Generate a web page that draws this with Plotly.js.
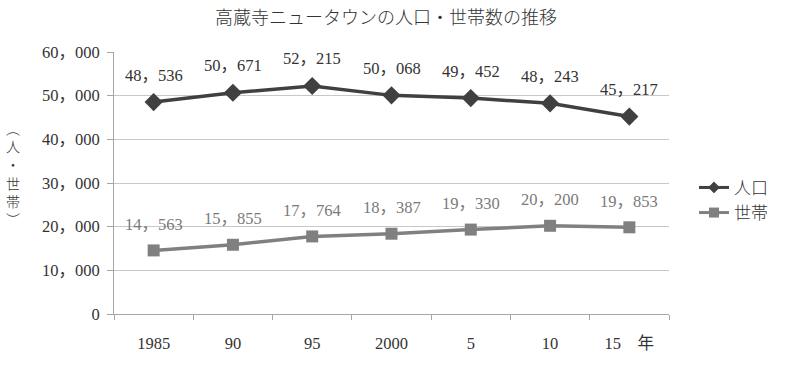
<!DOCTYPE html>
<html>
<head>
<meta charset="utf-8">
<script src="https://cdn.plot.ly/plotly-3.0.1.min.js"></script>
<style>html,body{margin:0;padding:0;background:#fff;}#chart{width:800px;height:370px;}</style>
</head>
<body>
<div id="chart"></div>
<script>
const categories = ["1985", "90", "95", "2000", "5", "10", "15"];
const tickLabels = ["1985", "90", "95", "2000", "5", "10", "15　年"];
const population = [48536, 50671, 52215, 50068, 49452, 48243, 45217];
const households = [14563, 15855, 17764, 18387, 19330, 20200, 19853];
const yTicks = [0, 10000, 20000, 30000, 40000, 50000, 60000];

const FONT = "Liberation Serif, 'Noto Sans CJK JP', serif";
const darkCol = "#404040";
const grayCol = "#808080";

function fmt(v) {
  return v.toLocaleString("en-US").replace(/,/g, "，");
}

const traces = [
  {
    x: categories, y: population, name: "人口", type: "scatter", mode: "lines+markers", showlegend: false,
    line: {color: darkCol, width: 3.5},
    marker: {symbol: "diamond", size: 14, color: darkCol}
  },
  {
    x: categories, y: households, name: "世帯", type: "scatter", mode: "lines+markers", showlegend: false,
    line: {color: grayCol, width: 3.5},
    marker: {symbol: "square", size: 12, color: grayCol}
  },
  {
    x: [null], y: [null], name: "人口", type: "scatter", mode: "lines+markers", showlegend: true,
    line: {color: darkCol, width: 3}, marker: {symbol: "diamond", size: 9, color: darkCol}
  },
  {
    x: [null], y: [null], name: "世帯", type: "scatter", mode: "lines+markers", showlegend: true,
    line: {color: grayCol, width: 3}, marker: {symbol: "square", size: 10, color: grayCol}
  }
];

const annotations = [];
categories.forEach((c, i) => {
  annotations.push({x: i, y: population[i], xref: "x", yref: "y", text: fmt(population[i]),
    showarrow: false, yshift: 27, font: {family: FONT, size: 16.5, color: "#333333"}});
  annotations.push({x: i, y: households[i], xref: "x", yref: "y", text: fmt(households[i]),
    showarrow: false, yshift: 26, font: {family: FONT, size: 16.5, color: "#7a7a7a"}});
});
annotations.push({x: 0, y: 0.5, xref: "paper", yref: "paper", xanchor: "center", yanchor: "middle",
  xshift: -101, yshift: 8, text: "︵<br>人<br>・<br>世<br>帯<br>︶", showarrow: false,
  font: {family: FONT, size: 14, color: "#333", weight: 300}});

const layout = {
  width: 800, height: 370,
  margin: {l: 114, r: 131, t: 52, b: 56},
  paper_bgcolor: "#fff", plot_bgcolor: "#fff",
  separators: ".，",
  title: {text: "高蔵寺ニュータウンの人口・世帯数の推移", x: 0.4825, xanchor: "center", y: 0.952, yanchor: "middle",
    font: {family: FONT, size: 18, color: "#333", weight: 300}},
  showlegend: true,
  legend: {x: 1.045, xanchor: "left", y: 0.55, yanchor: "top", font: {family: FONT, size: 17, color: "#333", weight: 300},
    bgcolor: "rgba(0,0,0,0)", itemwidth: 30, tracegroupgap: 4},
  xaxis: {
    type: "category", range: [-0.5, 6.5], tickvals: categories, ticktext: tickLabels,
    showgrid: false, showline: true, linecolor: "#a6a6a6", linewidth: 1,
    ticks: "outside", tickson: "boundaries", ticklen: 5, tickcolor: "#a6a6a6",
    tickfont: {family: FONT, size: 16.5, color: "#333"}, ticklabelstandoff: 14, fixedrange: true
  },
  yaxis: {
    range: [0, 60000], tickvals: yTicks, tickformat: ",d", showgrid: true, gridcolor: "#c8c8c8", gridwidth: 1,
    showline: true, linecolor: "#a6a6a6", linewidth: 1, zeroline: false,
    ticks: "outside", ticklen: 6, tickcolor: "#a6a6a6",
    tickfont: {family: FONT, size: 16.5, color: "#333"}, ticklabelstandoff: 4, fixedrange: true
  },
  annotations: annotations
};

Plotly.newPlot("chart", traces, layout, {displayModeBar: false, staticPlot: true});
</script>
</body>
</html>
